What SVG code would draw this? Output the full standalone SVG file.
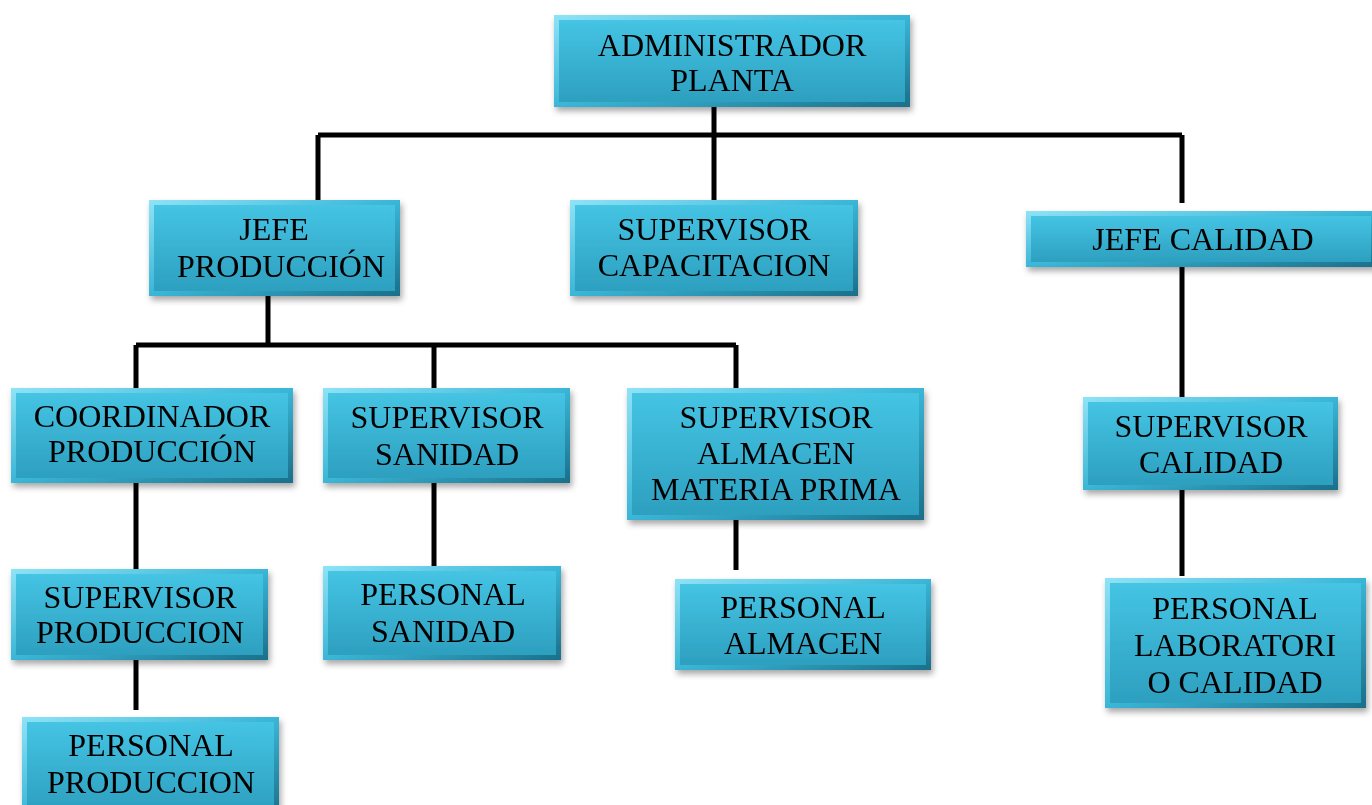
<svg xmlns="http://www.w3.org/2000/svg" width="1372" height="805" viewBox="0 0 1372 805">
<defs>
<linearGradient id="edge" x1="0" y1="0" x2="1" y2="1">
<stop offset="0" stop-color="#8fe3f6"/>
<stop offset="0.5" stop-color="#3ab6d7"/>
<stop offset="1" stop-color="#1a6f8a"/>
</linearGradient>
<linearGradient id="face" x1="0" y1="0" x2="0" y2="1">
<stop offset="0" stop-color="#45c4e4"/>
<stop offset="1" stop-color="#2d9fbf"/>
</linearGradient>
<filter id="sh" x="-10%" y="-20%" width="120%" height="150%">
<feDropShadow dx="2" dy="4" stdDeviation="3" flood-color="#000" flood-opacity="0.35"/>
</filter>
</defs>
<style>
.o{fill:url(#edge)}
.f{fill:url(#face)}
.n{filter:url(#sh)}
text{font-family:"Liberation Serif","Times New Roman",serif;font-size:32px;fill:#000;text-anchor:middle}
.c{stroke:#000;stroke-width:5;fill:none}
</style>
<rect width="1372" height="805" fill="#fff"/>
<g id="connectors" class="c">
<path d="M714 107V135M318 135H1182M318 135V200M714 135V200M1182 135V203"/>
<path d="M268 296V345M136 345H736M136 345V388M434 345V388M736 345V388"/>
<path d="M136 483V569M136 660V710M434 483V566M736 520V570M1182 267V397M1182 490V576"/>
</g>
<g id="admin" class="n"><rect class="o" x="554" y="15" width="356" height="92"/><rect class="f" x="559" y="20" width="346" height="82"/><text x="732" y="56">ADMINISTRADOR</text><text x="732" y="91">PLANTA</text></g>
<g id="jefeprod" class="n"><rect class="o" x="149" y="200" width="251" height="96"/><rect class="f" x="154" y="205" width="241" height="86"/><text x="274" y="240">JEFE</text><text x="281" y="277">PRODUCCIÓN</text></g>
<g id="supcap" class="n"><rect class="o" x="570" y="200" width="288" height="96"/><rect class="f" x="575" y="205" width="278" height="86"/><text x="714" y="240">SUPERVISOR</text><text x="714" y="276">CAPACITACION</text></g>
<g id="jefecal" class="n"><rect class="o" x="1026" y="211" width="350" height="56"/><rect class="f" x="1031" y="216" width="340" height="46"/><text x="1203" y="250">JEFE CALIDAD</text></g>
<g id="coord" class="n"><rect class="o" x="11" y="388" width="282" height="95"/><rect class="f" x="16" y="393" width="272" height="85"/><text x="152" y="427">COORDINADOR</text><text x="152" y="462">PRODUCCIÓN</text></g>
<g id="supsan" class="n"><rect class="o" x="323" y="388" width="247" height="95"/><rect class="f" x="328" y="393" width="237" height="85"/><text x="447" y="428">SUPERVISOR</text><text x="447" y="465">SANIDAD</text></g>
<g id="supalm" class="n"><rect class="o" x="627" y="388" width="297" height="132"/><rect class="f" x="632" y="393" width="287" height="122"/><text x="776" y="428">SUPERVISOR</text><text x="776" y="464">ALMACEN</text><text x="776" y="500">MATERIA PRIMA</text></g>
<g id="supprod" class="n"><rect class="o" x="11" y="569" width="257" height="91"/><rect class="f" x="16" y="574" width="247" height="81"/><text x="140" y="608">SUPERVISOR</text><text x="140" y="643">PRODUCCION</text></g>
<g id="persprod" class="n"><rect class="o" x="22" y="717" width="257" height="100"/><rect class="f" x="27" y="722" width="247" height="90"/><text x="151" y="756">PERSONAL</text><text x="151" y="793">PRODUCCION</text></g>
<g id="perssan" class="n"><rect class="o" x="323" y="566" width="238" height="94"/><rect class="f" x="328" y="571" width="228" height="84"/><text x="443" y="605">PERSONAL</text><text x="443" y="642">SANIDAD</text></g>
<g id="persalm" class="n"><rect class="o" x="675" y="579" width="256" height="91"/><rect class="f" x="680" y="584" width="246" height="81"/><text x="803" y="618">PERSONAL</text><text x="803" y="654">ALMACEN</text></g>
<g id="supcal" class="n"><rect class="o" x="1083" y="397" width="255" height="93"/><rect class="f" x="1088" y="402" width="245" height="83"/><text x="1211" y="437">SUPERVISOR</text><text x="1211" y="473">CALIDAD</text></g>
<g id="perslab" class="n"><rect class="o" x="1105" y="578" width="261" height="130"/><rect class="f" x="1110" y="583" width="251" height="120"/><text x="1235" y="619">PERSONAL</text><text x="1235" y="656">LABORATORI</text><text x="1235" y="693">O CALIDAD</text></g>
</svg>
